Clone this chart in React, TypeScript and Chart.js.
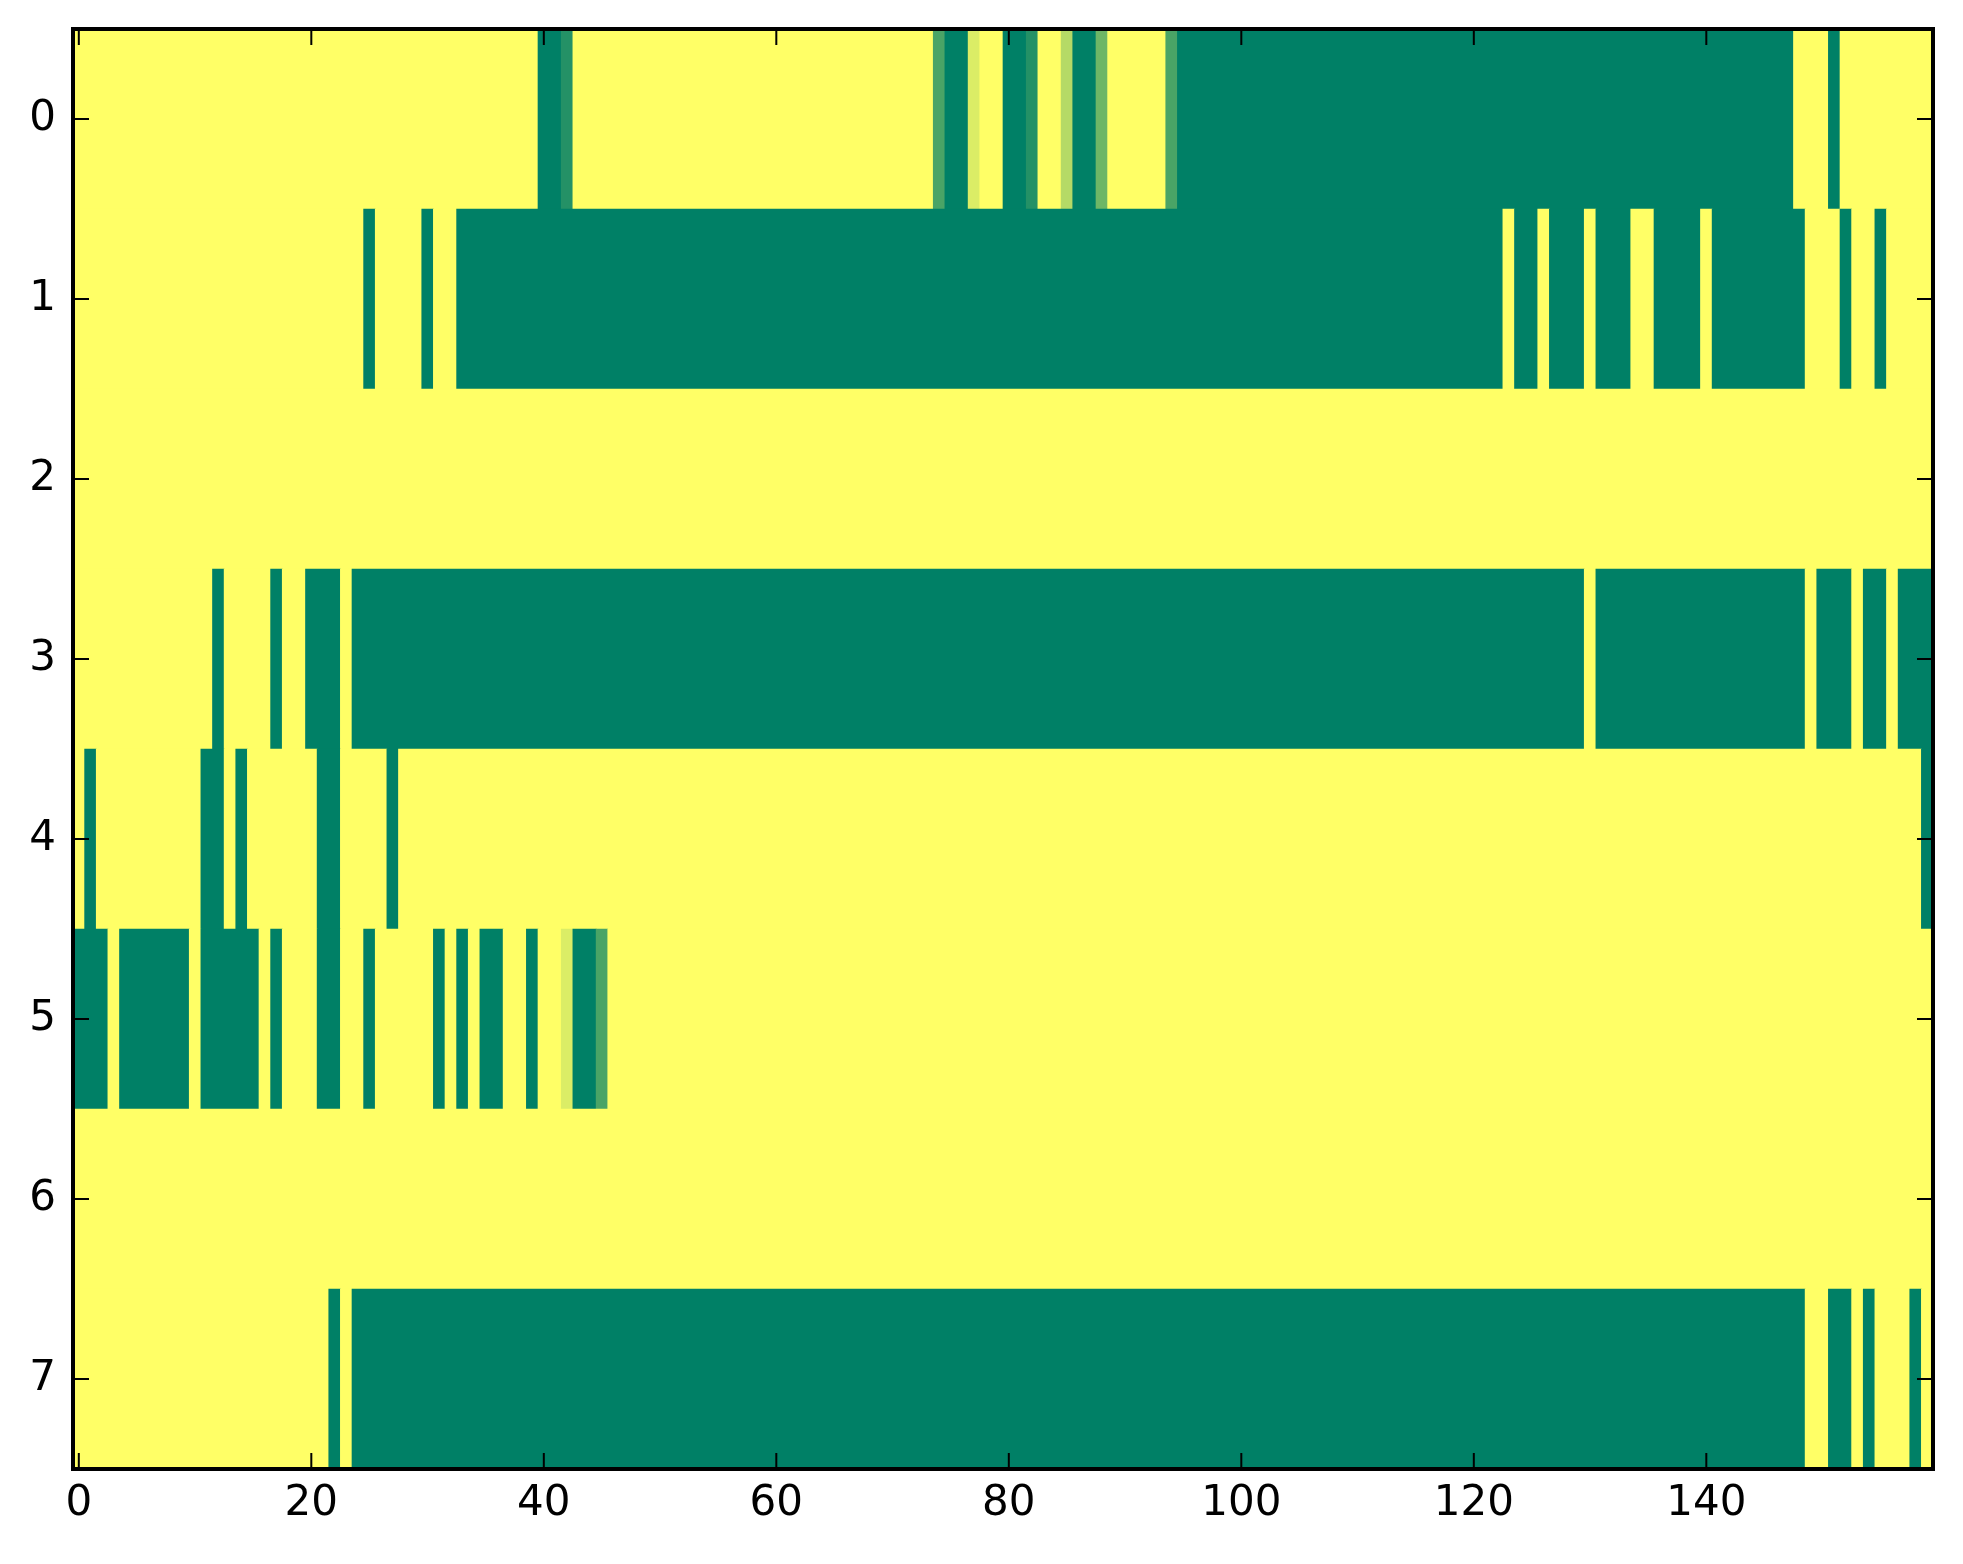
import React, { useEffect, useRef } from 'react';
import { Chart, registerables } from 'chart.js';

Chart.register(...registerables);

// Row labels (y axis, top to bottom)
const rowLabels = ['0', '1', '2', '3', '4', '5', '6', '7'];

// X tick labels
const xTicks = [0, 20, 40, 60, 80, 100, 120, 140];

// Cell values per row, columns 0..159 (0 = dark green, 1 = yellow, summer colormap)
const row0 = [
  1,1,1,1,1,1,1,1,1,1,1,1,1,1,1,1,1,1,1,1,
  1,1,1,1,1,1,1,1,1,1,1,1,1,1,1,1,1,1,1,1,
  0,0,0.14,1,1,1,1,1,1,1,1,1,1,1,1,1,1,1,1,1,
  1,1,1,1,1,1,1,1,1,1,1,1,1,1,0.29,0,0,0.86,1,1,
  0,0,0.14,1,1,0.71,0,0,0.43,1,1,1,1,1,0.29,0,0,0,0,0,
  0,0,0,0,0,0,0,0,0,0,0,0,0,0,0,0,0,0,0,0,
  0,0,0,0,0,0,0,0,0,0,0,0,0,0,0,0,0,0,0,0,
  0,0,0,0,0,0,0,0,1,1,1,0,1,1,1,1,1,1,1,1,
];
const row1 = [
  1,1,1,1,1,1,1,1,1,1,1,1,1,1,1,1,1,1,1,1,
  1,1,1,1,1,0,1,1,1,1,0,1,1,0,0,0,0,0,0,0,
  0,0,0,0,0,0,0,0,0,0,0,0,0,0,0,0,0,0,0,0,
  0,0,0,0,0,0,0,0,0,0,0,0,0,0,0,0,0,0,0,0,
  0,0,0,0,0,0,0,0,0,0,0,0,0,0,0,0,0,0,0,0,
  0,0,0,0,0,0,0,0,0,0,0,0,0,0,0,0,0,0,0,0,
  0,0,0,1,0,0,1,0,0,0,1,0,0,0,1,1,0,0,0,0,
  1,0,0,0,0,0,0,0,0,1,1,1,0,1,1,0,1,1,1,1,
];
const row2 = [
  1,1,1,1,1,1,1,1,1,1,1,1,1,1,1,1,1,1,1,1,
  1,1,1,1,1,1,1,1,1,1,1,1,1,1,1,1,1,1,1,1,
  1,1,1,1,1,1,1,1,1,1,1,1,1,1,1,1,1,1,1,1,
  1,1,1,1,1,1,1,1,1,1,1,1,1,1,1,1,1,1,1,1,
  1,1,1,1,1,1,1,1,1,1,1,1,1,1,1,1,1,1,1,1,
  1,1,1,1,1,1,1,1,1,1,1,1,1,1,1,1,1,1,1,1,
  1,1,1,1,1,1,1,1,1,1,1,1,1,1,1,1,1,1,1,1,
  1,1,1,1,1,1,1,1,1,1,1,1,1,1,1,1,1,1,1,1,
];
const row3 = [
  1,1,1,1,1,1,1,1,1,1,1,1,0,1,1,1,1,0,1,1,
  0,0,0,1,0,0,0,0,0,0,0,0,0,0,0,0,0,0,0,0,
  0,0,0,0,0,0,0,0,0,0,0,0,0,0,0,0,0,0,0,0,
  0,0,0,0,0,0,0,0,0,0,0,0,0,0,0,0,0,0,0,0,
  0,0,0,0,0,0,0,0,0,0,0,0,0,0,0,0,0,0,0,0,
  0,0,0,0,0,0,0,0,0,0,0,0,0,0,0,0,0,0,0,0,
  0,0,0,0,0,0,0,0,0,0,1,0,0,0,0,0,0,0,0,0,
  0,0,0,0,0,0,0,0,0,1,0,0,0,1,0,0,1,0,0,0,
];
const row4 = [
  1,0,1,1,1,1,1,1,1,1,1,0,0,1,0,1,1,1,1,1,
  1,0,0,1,1,1,1,0,1,1,1,1,1,1,1,1,1,1,1,1,
  1,1,1,1,1,1,1,1,1,1,1,1,1,1,1,1,1,1,1,1,
  1,1,1,1,1,1,1,1,1,1,1,1,1,1,1,1,1,1,1,1,
  1,1,1,1,1,1,1,1,1,1,1,1,1,1,1,1,1,1,1,1,
  1,1,1,1,1,1,1,1,1,1,1,1,1,1,1,1,1,1,1,1,
  1,1,1,1,1,1,1,1,1,1,1,1,1,1,1,1,1,1,1,1,
  1,1,1,1,1,1,1,1,1,1,1,1,1,1,1,1,1,1,1,0,
];
const row5 = [
  0,0,0,1,0,0,0,0,0,0,1,0,0,0,0,0,1,0,1,1,
  1,0,0,1,1,0,1,1,1,1,1,0,1,0,1,0,0,1,1,0,
  1,1,0.86,0,0,0.29,1,1,1,1,1,1,1,1,1,1,1,1,1,1,
  1,1,1,1,1,1,1,1,1,1,1,1,1,1,1,1,1,1,1,1,
  1,1,1,1,1,1,1,1,1,1,1,1,1,1,1,1,1,1,1,1,
  1,1,1,1,1,1,1,1,1,1,1,1,1,1,1,1,1,1,1,1,
  1,1,1,1,1,1,1,1,1,1,1,1,1,1,1,1,1,1,1,1,
  1,1,1,1,1,1,1,1,1,1,1,1,1,1,1,1,1,1,1,1,
];
const row6 = [
  1,1,1,1,1,1,1,1,1,1,1,1,1,1,1,1,1,1,1,1,
  1,1,1,1,1,1,1,1,1,1,1,1,1,1,1,1,1,1,1,1,
  1,1,1,1,1,1,1,1,1,1,1,1,1,1,1,1,1,1,1,1,
  1,1,1,1,1,1,1,1,1,1,1,1,1,1,1,1,1,1,1,1,
  1,1,1,1,1,1,1,1,1,1,1,1,1,1,1,1,1,1,1,1,
  1,1,1,1,1,1,1,1,1,1,1,1,1,1,1,1,1,1,1,1,
  1,1,1,1,1,1,1,1,1,1,1,1,1,1,1,1,1,1,1,1,
  1,1,1,1,1,1,1,1,1,1,1,1,1,1,1,1,1,1,1,1,
];
const row7 = [
  1,1,1,1,1,1,1,1,1,1,1,1,1,1,1,1,1,1,1,1,
  1,1,0,1,0,0,0,0,0,0,0,0,0,0,0,0,0,0,0,0,
  0,0,0,0,0,0,0,0,0,0,0,0,0,0,0,0,0,0,0,0,
  0,0,0,0,0,0,0,0,0,0,0,0,0,0,0,0,0,0,0,0,
  0,0,0,0,0,0,0,0,0,0,0,0,0,0,0,0,0,0,0,0,
  0,0,0,0,0,0,0,0,0,0,0,0,0,0,0,0,0,0,0,0,
  0,0,0,0,0,0,0,0,0,0,0,0,0,0,0,0,0,0,0,0,
  0,0,0,0,0,0,0,0,0,1,1,0,0,1,0,1,1,1,0,1,
];

const rows = [row0, row1, row2, row3, row4, row5, row6, row7];

// matplotlib "summer" colormap
function summer(v: number): string {
  const r = Math.round(255 * v);
  const g = Math.round(255 * (0.5 + 0.5 * v));
  const b = Math.round(255 * 0.4);
  return `rgb(${r},${g},${b})`;
}

// Merge consecutive equal cells of each row into one floating bar (imshow cells)
function buildCells() {
  const out: { y: string; x: [number, number]; v: number }[] = [];
  rows.forEach((row, r) => {
    let start = 0;
    for (let i = 1; i <= row.length; i++) {
      if (i === row.length || row[i] !== row[start]) {
        out.push({ y: rowLabels[r], x: [start - 0.5, i - 0.5], v: row[start] });
        start = i;
      }
    }
  });
  return out;
}

const FONT = { family: 'DejaVu Sans', size: 42 };

const frameTicks = {
  id: 'frameTicks',
  afterDraw(chart: any) {
    const { ctx, chartArea: a } = chart;
    const x = chart.scales.x;
    const y = chart.scales.y;
    const len = 16;
    ctx.save();
    ctx.strokeStyle = '#000';
    ctx.lineWidth = 2;
    ctx.beginPath();
    x.ticks.forEach((t: any) => {
      const px = x.getPixelForValue(t.value);
      ctx.moveTo(px, a.bottom);
      ctx.lineTo(px, a.bottom - len);
      ctx.moveTo(px, a.top);
      ctx.lineTo(px, a.top + len);
    });
    y.ticks.forEach((_t: any, i: number) => {
      const py = y.getPixelForTick(i);
      ctx.moveTo(a.left, py);
      ctx.lineTo(a.left + len, py);
      ctx.moveTo(a.right, py);
      ctx.lineTo(a.right - len, py);
    });
    ctx.stroke();
    ctx.lineWidth = 4;
    ctx.strokeRect(a.left, a.top, a.right - a.left, a.bottom - a.top);
    ctx.restore();
  },
};

export default function App() {
  const ref = useRef<HTMLCanvasElement | null>(null);

  useEffect(() => {
    if (!ref.current) return;
    const chart = new Chart(ref.current, {
      type: 'bar',
      data: {
        labels: rowLabels,
        datasets: [
          {
            data: buildCells() as any,
            backgroundColor: (c: any) => summer(c.raw ? c.raw.v : 1),
            borderWidth: 0,
            barPercentage: 1,
            categoryPercentage: 1,
            grouped: false,
          } as any,
        ],
      },
      options: {
        indexAxis: 'y',
        responsive: false,
        animation: false,
        devicePixelRatio: 1,
        layout: { padding: { top: 29, right: 30, left: 0, bottom: 0 } },
        plugins: { legend: { display: false }, tooltip: { enabled: false } },
        scales: {
          x: {
            type: 'linear',
            min: -0.5,
            max: 159.5,
            grid: { display: false, drawTicks: false },
            border: { display: false },
            afterBuildTicks: (s: any) => {
              s.ticks = xTicks.map((v) => ({ value: v }));
            },
            afterFit: (s: any) => {
              s.height = 95;
              s.paddingLeft = 0;
              s.paddingRight = 0;
            },
            ticks: {
              font: FONT,
              color: '#000',
              padding: 10,
              maxRotation: 0,
              autoSkip: false,
              callback: (v: any) => String(v),
            },
          },
          y: {
            type: 'category',
            offset: true,
            grid: { display: false, drawTicks: false },
            border: { display: false },
            afterFit: (s: any) => {
              s.width = 73;
              s.paddingTop = 0;
              s.paddingBottom = 0;
            },
            ticks: { font: FONT, color: '#000', padding: 17, autoSkip: false },
          },
        },
      },
      plugins: [frameTicks],
    });
    return () => chart.destroy();
  }, []);

  return (
    <div style={{ position: 'absolute', left: 0, top: 0, width: 1963, height: 1564, background: '#fff' }}>
      <canvas ref={ref} width={1963} height={1564} style={{ display: 'block' }} />
    </div>
  );
}
